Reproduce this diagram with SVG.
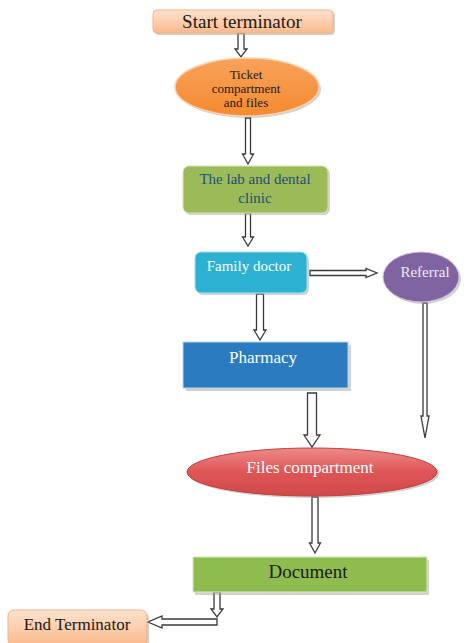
<svg xmlns="http://www.w3.org/2000/svg" width="467" height="643" viewBox="0 0 467 643" font-family="'Liberation Serif', 'Times New Roman', 'DejaVu Serif', serif">
<style>
text{text-anchor:middle}
.arr{fill:#ffffff;stroke:#3a3a3a;stroke-width:1.3;stroke-linejoin:miter}
.sh{fill:#9a9a9a;opacity:0.45}
.dark{fill:#1a1a1a}
.white{fill:#ffffff}
</style>
<defs>
<linearGradient id="gTerm" x1="0" y1="0" x2="0" y2="1"><stop offset="0" stop-color="#fde3cf"/><stop offset="1" stop-color="#fab98a"/></linearGradient>
<linearGradient id="gOrange" x1="0" y1="0" x2="0" y2="1"><stop offset="0" stop-color="#f9a25a"/><stop offset="1" stop-color="#f58a30"/></linearGradient>
<linearGradient id="gRed" x1="0" y1="0" x2="0" y2="1"><stop offset="0" stop-color="#ee8a8a"/><stop offset="0.5" stop-color="#df5555"/><stop offset="1" stop-color="#d04a4a"/></linearGradient>
</defs>

<g id="connectors">
<path class="arr" d="M238,33 L244,33 L244,49 L247,49 L241,57 L235,49 L238,49 Z"/>
<path class="arr" d="M245.5,118 L250.5,118 L250.5,154 L253.5,154 L248,164 L242.5,154 L245.5,154 Z"/>
<path class="arr" d="M245.5,213 L250.5,213 L250.5,237 L253.5,237 L248,246 L242.5,237 L245.5,237 Z"/>
<path class="arr" d="M256.5,294 L263.5,294 L263.5,330 L266,330 L260,340 L254,330 L256.5,330 Z"/>
<path class="arr" d="M310,270.5 L366,270.5 L366,268.5 L377,273 L366,277.5 L366,275.5 L310,275.5 Z"/>
<path class="arr" d="M423,303 L427,303 L427,416 L429,416 L425,438 L421,416 L423,416 Z"/>
<path class="arr" d="M307.5,393 L316.5,393 L316.5,435 L320,435 L312,447 L304,435 L307.5,435 Z"/>
<path class="arr" d="M312,497 L318,497 L318,543 L320.5,543 L315,553 L309.5,543 L312,543 Z"/>
<path class="arr" d="M214,592 L220,592 L220,609 L223,609 L217,617 L211,609 L214,609 Z"/>
<path class="arr" d="M217,619 L217,625 L162,625 L162,628 L148,622 L162,616 L162,619 Z"/>
</g>

<g id="start">
<rect x="155" y="12" width="180" height="23" rx="4" class="sh"/>
<rect x="153" y="10" width="180" height="23" rx="4" fill="url(#gTerm)" stroke="#f4b183" stroke-width="1"/>
<text x="242" y="28" font-size="19" class="dark">Start terminator</text>
</g>

<g id="ticket">
<ellipse cx="249" cy="89" rx="72" ry="29" class="sh"/>
<ellipse cx="247" cy="87" rx="72" ry="29" fill="url(#gOrange)" stroke="#fbd2b0" stroke-width="1.5"/>
<text x="246" y="79" font-size="13" class="dark">Ticket</text>
<text x="246" y="93" font-size="13" class="dark">compartment</text>
<text x="246" y="107" font-size="13" class="dark">and files</text>
</g>

<g id="lab">
<rect x="185" y="168" width="145" height="47" rx="6" class="sh"/>
<rect x="183" y="166" width="145" height="47" rx="6" fill="#9bbb59" stroke="#d4e4b4" stroke-width="1"/>
<text x="255" y="184" font-size="15" fill="#1f4e79">The lab and dental</text>
<text x="255" y="203" font-size="15" fill="#1f4e79">clinic</text>
</g>

<g id="family">
<rect x="197" y="254" width="112" height="41" rx="6" class="sh"/>
<rect x="195" y="252" width="112" height="41" rx="6" fill="#2cb1d3" stroke="#a7dfee" stroke-width="1"/>
<text x="249" y="271" font-size="15" class="white">Family doctor</text>
</g>

<g id="referral">
<ellipse cx="423" cy="279" rx="38" ry="25" class="sh"/>
<ellipse cx="421" cy="277" rx="38" ry="25" fill="#8064a2" stroke="#cdc0dc" stroke-width="1"/>
<text x="425" y="277" font-size="15" fill="#eeeaf6">Referral</text>
</g>

<g id="pharmacy">
<rect x="186" y="345" width="165" height="46" class="sh"/>
<rect x="183" y="342" width="165" height="46" fill="#2a7bbf" stroke="#bcd5ea" stroke-width="1"/>
<text x="263" y="363" font-size="17" class="white">Pharmacy</text>
</g>

<g id="files">
<ellipse cx="314" cy="474" rx="125" ry="24" class="sh"/>
<ellipse cx="312" cy="472" rx="125" ry="24" fill="url(#gRed)" stroke="#c03c3c" stroke-width="1"/>
<text x="310" y="473" font-size="17" class="white">Files compartment</text>
</g>

<g id="document">
<rect x="195" y="560" width="234" height="35" class="sh"/>
<rect x="193" y="557" width="234" height="35" fill="#8fbc4e" stroke="#d9e7c3" stroke-width="1"/>
<text x="308" y="578" font-size="19" class="dark">Document</text>
</g>

<g id="end">
<rect x="10" y="612" width="139" height="36" rx="6" class="sh"/>
<rect x="8" y="610" width="139" height="36" rx="6" fill="url(#gTerm)" stroke="#f4b183" stroke-width="1"/>
<text x="77" y="630" font-size="17" class="dark">End Terminator</text>
</g>
</svg>
